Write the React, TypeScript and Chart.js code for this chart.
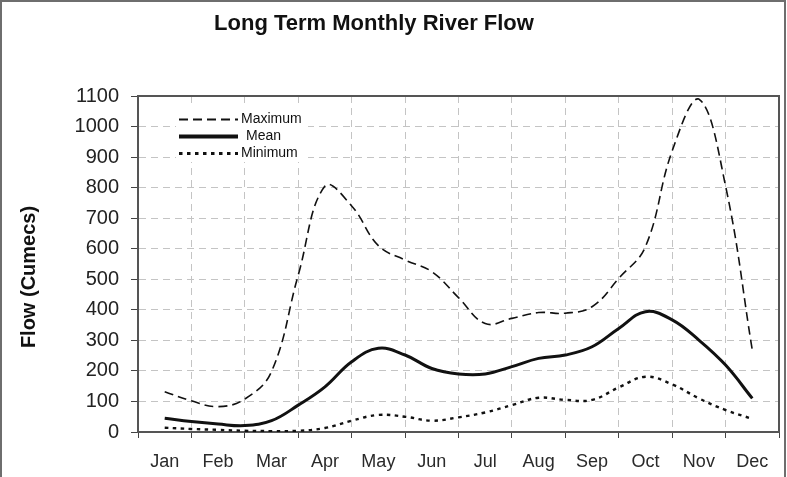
import React, { useEffect, useRef } from "react";
import { Chart, registerables } from "chart.js";

Chart.register(...registerables);

// Category labels (months)
const MONTHS = ["Jan", "Feb", "Mar", "Apr", "May", "Jun", "Jul", "Aug", "Sep", "Oct", "Nov", "Dec"];

// Half-monthly readings from mid-Jan to mid-Dec (23 values, step = half a month)
const MAXIMUM = [132, 102, 83, 108, 198, 514, 805, 740, 610, 563, 525, 440, 355, 372, 391, 389, 410, 503, 607, 920, 1090, 805, 268];
const MEAN = [45, 34, 26, 21, 37, 88, 148, 230, 274, 252, 208, 190, 190, 214, 241, 252, 279, 339, 394, 367, 301, 219, 110];
const MINIMUM = [14, 10, 7, 4, 3, 4, 13, 37, 56, 50, 37, 48, 64, 88, 112, 105, 105, 146, 181, 156, 110, 72, 43];

const SERIES_NAMES = ["Maximum", "Mean", "Minimum"];
const Y_MIN = 0;
const Y_MAX = 1100;
const Y_STEP = 100;

const TITLE = "Long Term Monthly River Flow";
const Y_TITLE = "Flow (Cumecs)";

const FONT = "'Liberation Sans', Arial, Helvetica, sans-serif";

const toPoints = (arr: number[]) => arr.map((v, i) => ({ x: i * 0.5, y: v }));

const framePlugin = {
  id: "frameAndTitles",
  beforeDraw(chart: any) {
    const { ctx, width, height } = chart;
    ctx.save();
    ctx.fillStyle = "#ffffff";
    ctx.fillRect(0, 0, width, height);
    ctx.strokeStyle = "#6e6e6e";
    ctx.lineWidth = 2;
    ctx.strokeRect(1, 1, 784, height + 20);
    ctx.restore();
  },
  beforeDatasetsDraw(chart: any) {
    const { ctx, chartArea } = chart;
    ctx.save();
    ctx.strokeStyle = "#555555";
    ctx.lineWidth = 2;
    ctx.beginPath();
    ctx.moveTo(chartArea.left, chartArea.top);
    ctx.lineTo(chartArea.right, chartArea.top);
    ctx.lineTo(chartArea.right, chartArea.bottom);
    ctx.stroke();

    // legend box inside the plot
    const ds = chart.data.datasets;
    const rowsY = [119.5, 136.5, 153.5];
    const textX = [241, 246, 241];
    ctx.fillStyle = "#ffffff";
    ctx.fillRect(176, 106, 132, 56);
    ds.forEach((d: any, i: number) => {
      ctx.save();
      ctx.strokeStyle = d.borderColor;
      ctx.lineWidth = i === 1 ? 4 : d.borderWidth + 0.6;
      ctx.setLineDash(d.borderDash || []);
      ctx.beginPath();
      ctx.moveTo(179, rowsY[i]);
      ctx.lineTo(238, rowsY[i]);
      ctx.stroke();
      ctx.restore();
      ctx.fillStyle = "#111111";
      ctx.font = `14px ${FONT}`;
      ctx.textAlign = "left";
      ctx.textBaseline = "middle";
      ctx.fillText(d.label, textX[i], rowsY[i]);
    });
    ctx.restore();
  },
  afterDraw(chart: any) {
    const { ctx } = chart;
    ctx.save();
    ctx.fillStyle = "#111111";
    ctx.font = `bold 22px ${FONT}`;
    ctx.textAlign = "center";
    ctx.textBaseline = "middle";
    ctx.fillText(TITLE, 374, 24);

    ctx.translate(29, 277);
    ctx.rotate(-Math.PI / 2);
    ctx.font = `bold 20px ${FONT}`;
    ctx.fillText(Y_TITLE, 0, 0);
    ctx.restore();
  },
};

export default function App() {
  const canvasRef = useRef<HTMLCanvasElement | null>(null);

  useEffect(() => {
    if (!canvasRef.current) return;
    const isCenter = (v: number) => Number.isInteger(v);
    const chart = new Chart(canvasRef.current, {
      type: "line",
      data: {
        datasets: [
          {
            label: SERIES_NAMES[0],
            data: toPoints(MAXIMUM),
            borderColor: "#111111",
            borderWidth: 1.6,
            borderDash: [9, 5],
            tension: 0.4,
            pointRadius: 0,
            fill: false,
          },
          {
            label: SERIES_NAMES[1],
            data: toPoints(MEAN),
            borderColor: "#111111",
            borderWidth: 3,
            borderDash: [],
            tension: 0.4,
            pointRadius: 0,
            fill: false,
          },
          {
            label: SERIES_NAMES[2],
            data: toPoints(MINIMUM),
            borderColor: "#111111",
            borderWidth: 2.4,
            borderDash: [3.5, 4.5],
            tension: 0.4,
            pointRadius: 0,
            fill: false,
          },
        ],
      },
      options: {
        responsive: false,
        animation: false,
        devicePixelRatio: 1,
        layout: { padding: { top: 96, left: 0, right: 8, bottom: 0 } },
        plugins: {
          legend: { display: false },
          title: { display: false },
          tooltip: { enabled: false },
        },
        scales: {
          x: {
            type: "linear",
            min: -0.5,
            max: MONTHS.length - 0.5,
            afterBuildTicks: (scale: any) => {
              const t: any[] = [];
              for (let i = 0; i <= MONTHS.length * 2; i++) t.push({ value: -0.5 + i * 0.5 });
              scale.ticks = t;
            },
            afterFit: (scale: any) => {
              scale.height = 45;
              scale.paddingLeft = 0;
              scale.paddingRight = 0;
            },
            ticks: {
              autoSkip: false,
              maxRotation: 0,
              minRotation: 0,
              padding: 13,
              color: "#2a2a2a",
              font: { family: FONT, size: 18 },
              callback: (v: any) => (isCenter(Number(v)) ? MONTHS[Number(v)] : ""),
            },
            grid: {
              color: (c: any) => (c.tick && !isCenter(c.tick.value) ? "#c4c4c4" : "rgba(0,0,0,0)"),
              tickColor: (c: any) => (c.tick && !isCenter(c.tick.value) ? "#444444" : "rgba(0,0,0,0)"),
              tickLength: 6,
              lineWidth: 1,
            },
            border: { color: "#555555", width: 2, dash: [7, 5] },
          },
          y: {
            min: Y_MIN,
            max: Y_MAX,
            afterFit: (scale: any) => {
              scale.width = 138;
            },
            ticks: {
              stepSize: Y_STEP,
              padding: 12,
              color: "#222222",
              font: { family: FONT, size: 20 },
              callback: (v: any) => String(v),
            },
            grid: {
              color: "#c4c4c4",
              tickColor: "#444444",
              tickLength: 7,
              lineWidth: 1,
            },
            border: { color: "#555555", width: 2, dash: [7, 5] },
          },
        },
      },
      plugins: [framePlugin],
    } as any);
    return () => chart.destroy();
  }, []);

  return (
    <div
      style={{
        position: "absolute",
        left: 0,
        top: 0,
        width: 787,
        height: 477,
        overflow: "hidden",
        background: "#ffffff",
      }}
    >
      <canvas ref={canvasRef} width={787} height={477} style={{ display: "block", width: 787, height: 477 }} />
    </div>
  );
}
